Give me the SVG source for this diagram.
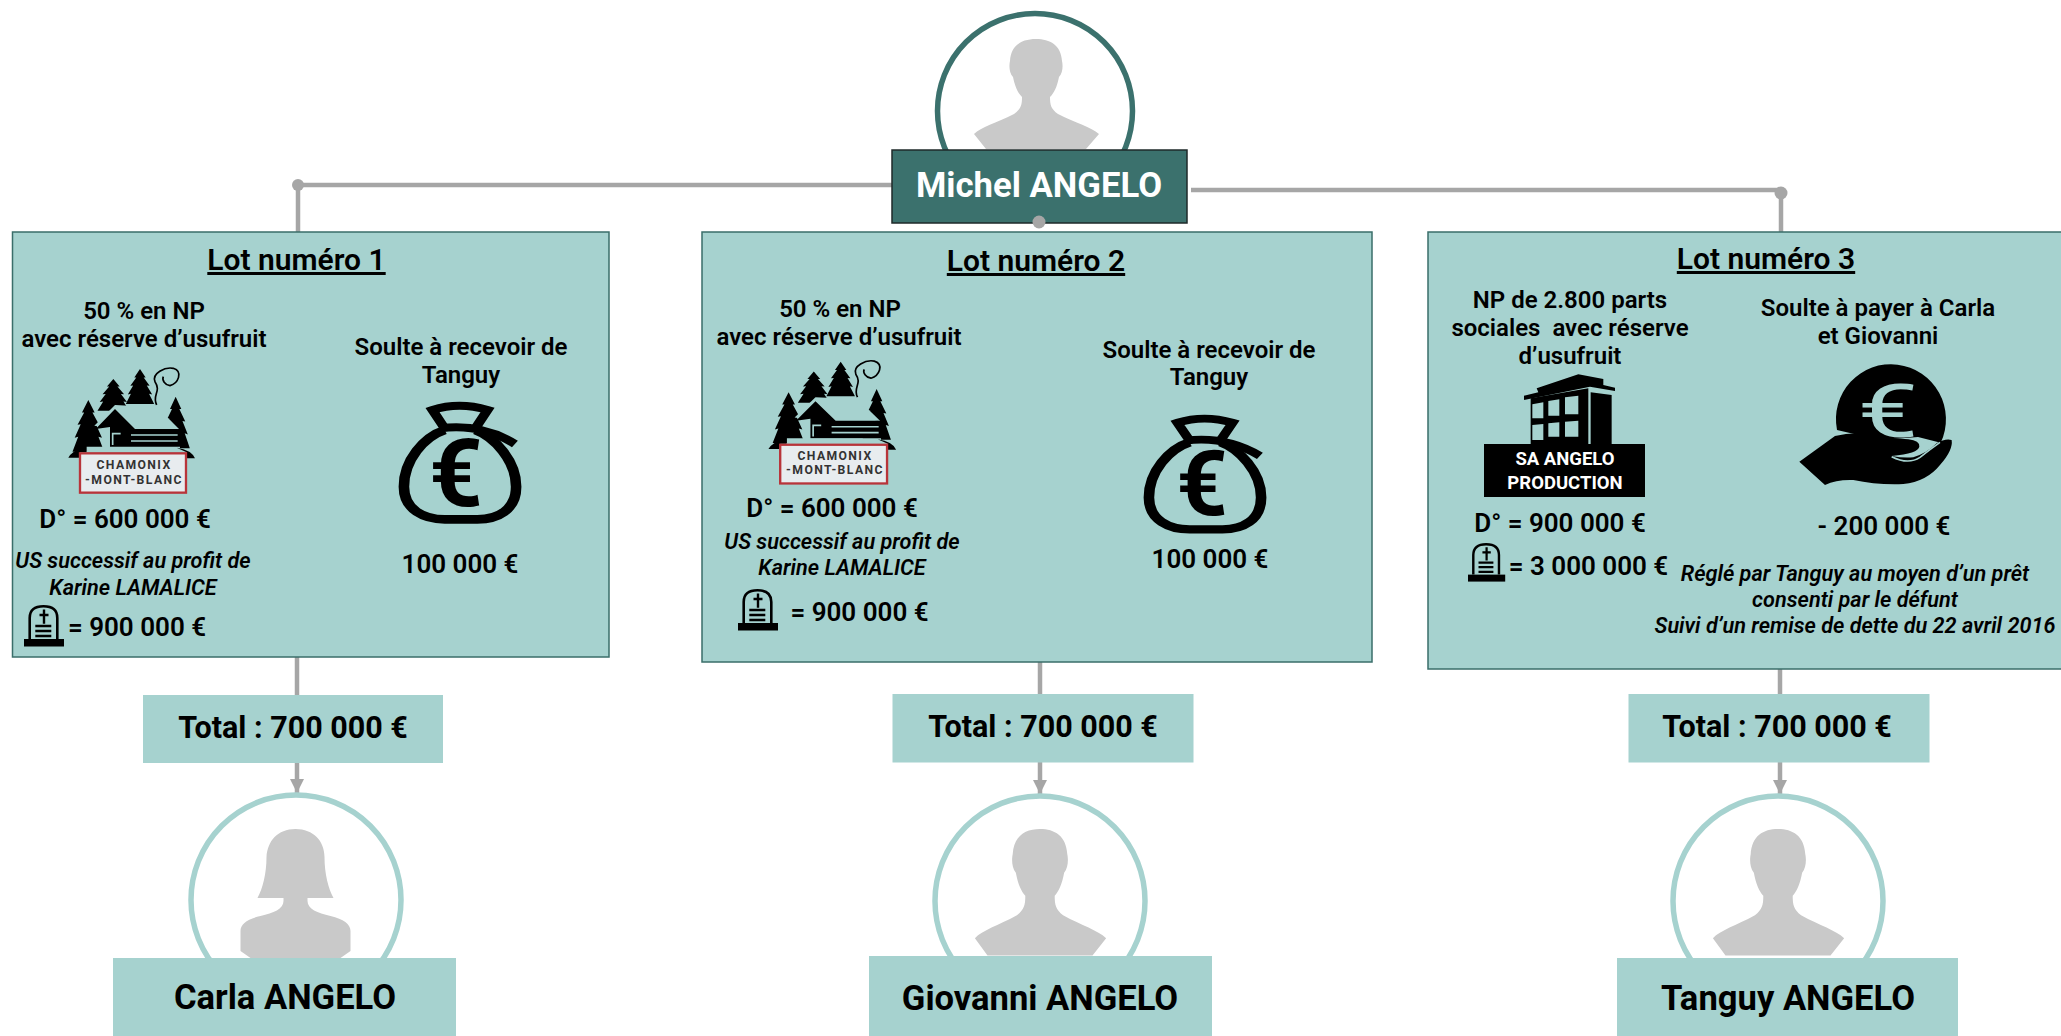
<svg xmlns="http://www.w3.org/2000/svg" width="2061" height="1036" viewBox="0 0 2061 1036">
<style>
text{font-family:Roboto,"Liberation Sans",sans-serif;text-anchor:middle;fill:#000;font-weight:700}
.st{font-size:24px;font-weight:600}
.big{font-size:26px;font-weight:600}
.lot{font-size:30px;text-decoration:underline;font-weight:600}
.it{font-size:21.7px;font-style:italic;font-weight:600}
.tot{font-size:30.5px}
.name{font-size:34.6px}
.sign{font-size:12.2px;letter-spacing:1.4px;fill:#333;font-weight:700}
.sa{font-size:18.5px;fill:#fff}
.box{fill:#a6d2cf}
.lotbox{fill:#a6d2cf;stroke:#3a6e6a;stroke-width:1.5}
.ring{fill:#fff;stroke-width:5.5}
.sil{fill:#c9c9c9}
.cn{fill:none;stroke:#a6a6a6;stroke-width:4.5}
.dot{fill:#a6a6a6}
</style>
<defs>
<marker id="arr" markerUnits="userSpaceOnUse" markerWidth="14" markerHeight="14" refX="14" refY="7" orient="auto"><path d="M0,0L14,7L0,14Z" fill="#a6a6a6"/></marker>
<path id="tree" d="M0,0L20,24L13,24L34,48L24,47L43,73L32,71L50,100L-50,100L-32,71L-43,73L-24,47L-34,48L-13,24L-20,24Z" fill="#000"/>
<g id="chalet">
<use href="#tree" transform="translate(255,42) scale(.85,1.05)"/>
<use href="#tree" transform="translate(175,72) scale(.95,.95)"/>
<use href="#tree" transform="translate(100,135) scale(.95,1.55)"/>
<use href="#tree" transform="translate(362,125) scale(.85,1.55)"/>
<path d="M118,212L180,150L280,155L340,190L372,222L232,228Z" fill="#a6d2cf"/>
<path d="M180,162L122,222L165,216V276H368V222H240Z" fill="#000"/>
<path d="M228,240H368M228,258H368M173,270V236H197" fill="none" stroke="#a6d2cf" stroke-width="5"/>
<path d="M305,150C290,120 320,110 300,80C290,55 330,35 355,40C385,50 370,85 345,92C330,90 320,75 325,65" fill="none" stroke="#000" stroke-width="5"/>
<path d="M95,275H375V295H95Z" fill="#a6d2cf"/>
<path d="M40,308Q50,288 85,278L95,292H75V308ZM365,278Q410,285 420,310H395V292Z" fill="#000"/>
<rect x="75" y="295" width="318" height="118" fill="#e8ecef" stroke="#b8343a" stroke-width="7"/>
</g>
<g id="bag">
<path d="M1090,625L1060,570Q1125,545 1195,570L1165,625" fill="none" stroke="#000" stroke-width="24"/>
<path d="M1090,630C1040,650 990,720 990,800C990,870 1040,898 1090,898H1170C1220,898 1265,870 1265,800C1265,720 1210,650 1165,630" fill="none" stroke="#000" stroke-width="26"/>
<path d="M1080,625Q1180,610 1262,672" fill="none" stroke="#000" stroke-width="24"/>
</g>
<g id="tomb">
<path d="M5.7,34V13Q5.7,1.3 19.5,1.3Q33.3,1.3 33.3,13V34" fill="none" stroke="#000" stroke-width="2.6"/>
<rect x="0" y="34" width="40" height="7.5" fill="#000"/>
<path d="M20,4.5V18.7M15.5,10H24.5" stroke="#000" stroke-width="2.4" fill="none"/>
<path d="M11.3,21H27.3M11.3,26H27.3M11.3,31H27.3" stroke="#000" stroke-width="2.4" fill="none"/>
</g>
<g id="man"><path class="sil" d="M0,0C-14,0 -25,6 -26,22C-27,26 -27,34 -23,38C-21,48 -18,54 -14,58C-14,66 -15,70 -22,75C-40,84 -55,88 -62,95L-50,110H50L63,95C55,88 40,84 22,75C15,70 14,66 14,58C18,54 21,48 23,38C27,34 27,26 26,22C25,6 14,0 0,0Z"/></g>
<g id="woman"><path class="sil" d="M0,0C-18,0 -28,12 -29,28C-29,45 -33,60 -38,69H-12V72C-12,80 -22,84 -35,87C-48,90 -55,95 -55,102V122L-45,129H45L55,122V102C55,95 48,90 35,87C22,84 12,80 12,72V69H38C33,60 29,45 29,28C29,12 18,0 0,0Z"/></g>
</defs>
<rect width="2061" height="1036" fill="#fff"/>

<g id="michel-portrait">
<circle class="ring" cx="1035" cy="111" r="97.5" stroke="#3b716d"/>
<use href="#man" transform="translate(1036,39)"/>
</g>

<g id="connectors">
<path class="cn" d="M298,185H892"/>
<path class="cn" d="M298,185V232"/>
<circle class="dot" cx="298" cy="185" r="6"/>
<path class="cn" d="M1191,190H1781"/>
<path class="cn" d="M1781,193V232"/>
<circle class="dot" cx="1781" cy="193" r="6.5"/>
<path class="cn" d="M297,657V695"/>
<path class="cn" d="M297,763V793" marker-end="url(#arr)"/>
<path class="cn" d="M1040,662V694"/>
<path class="cn" d="M1040,762V794" marker-end="url(#arr)"/>
<path class="cn" d="M1780,669V694"/>
<path class="cn" d="M1780,762V794" marker-end="url(#arr)"/>
</g>

<g id="michel">
<rect x="892" y="150" width="295" height="73" fill="#3b716d" stroke="#1f2a2a" stroke-width="1.5"/>
<text x="1039" y="197" style="font-size:34.7px;fill:#fff">Michel ANGELO</text>
</g>

<g id="lot1">
<rect class="lotbox" x="12.5" y="232" width="596.5" height="425"/>
<text class="lot" x="296.5" y="270">Lot numéro 1</text>
<text class="st" x="144" y="319">50 % en NP</text>
<text class="st" x="144" y="347">avec réserve d’usufruit</text>
<use href="#chalet" transform="translate(55,355) scale(.3333)"/>
<text class="sign" x="134" y="469">CHAMONIX</text>
<text class="sign" x="134" y="484">-MONT-BLANC</text>
<text class="big" x="125" y="528">D° = 600 000 €</text>
<text class="it" x="133" y="568">US successif au profit de</text>
<text class="it" x="133" y="595">Karine LAMALICE</text>
<use href="#tomb" transform="translate(24,605)"/>
<text class="big" x="137" y="636">= 900 000 €</text>
<text class="st" x="461" y="355">Soulte à recevoir de</text>
<text class="st" x="461" y="383">Tanguy</text>
<use href="#bag" transform="translate(0,220) scale(.408,.3333)"/>
<text x="456" y="506" style="font-size:94px">€</text>
<text class="big" x="460" y="573">100 000 €</text>
</g>

<g id="lot2">
<rect class="lotbox" x="702" y="232" width="670" height="430"/>
<text class="lot" x="1036" y="271">Lot numéro 2</text>
<text class="st" x="840" y="316.5">50 % en NP</text>
<text class="st" x="839" y="345">avec réserve d’usufruit</text>
<use href="#chalet" transform="translate(755,348) scale(.336,.328)"/>
<text class="sign" x="835" y="459.5">CHAMONIX</text>
<text class="sign" x="835" y="474">-MONT-BLANC</text>
<text class="big" x="832" y="517">D° = 600 000 €</text>
<text class="it" x="842" y="548.5">US successif au profit de</text>
<text class="it" x="842" y="574.5">Karine LAMALICE</text>
<use href="#tomb" transform="translate(738,589)"/>
<text class="big" x="859.5" y="621">= 900 000 €</text>
<text class="st" x="1209" y="358">Soulte à recevoir de</text>
<text class="st" x="1209" y="385">Tanguy</text>
<use href="#bag" transform="translate(745,237.5) scale(.408,.325)"/>
<text x="1202" y="515" style="font-size:90px">€</text>
<text class="big" x="1210" y="568">100 000 €</text>
<circle class="dot" cx="1039" cy="222" r="6.5"/>
</g>

<g id="lot3">
<rect class="lotbox" x="1428" y="232" width="640" height="437"/>
<text class="lot" x="1766" y="269">Lot numéro 3</text>
<text class="st" x="1570" y="308">NP de 2.800 parts</text>
<text class="st" x="1570" y="336" xml:space="preserve">sociales  avec réserve</text>
<text class="st" x="1570" y="364">d’usufruit</text>
<g transform="translate(1500,365) scale(.3333)">
<path d="M110,70L235,28L310,42V60L345,68V78L270,65L72,105V92L115,82Z" fill="#000"/>
<path d="M92,100L265,70V245H92ZM272,82L335,90V245H272Z" fill="#000"/>
<path d="M97,118L130,112V160H97ZM145,108L178,103V152H145ZM195,97L235,92V148H195ZM97,180L130,177V225H97ZM145,175L178,172V215H145ZM195,170L235,167V215H195Z" fill="#a6d2cf"/>
</g>
<rect x="1484" y="444" width="161" height="53" fill="#000"/>
<text class="sa" x="1565" y="465">SA ANGELO</text>
<text class="sa" x="1565" y="489">PRODUCTION</text>
<text class="big" x="1560" y="532">D° = 900 000 €</text>
<use href="#tomb" transform="translate(1468,543) scale(.93)"/>
<text class="big" x="1588.5" y="575">= 3 000 000 €</text>
<text class="st" x="1878" y="316">Soulte à payer à Carla</text>
<text class="st" x="1878" y="344">et Giovanni</text>
<path d="M1837,430A55,55 0 1 1 1940.7,442.7L1918,437L1880,440Z" fill="#000"/>
<text transform="translate(1888,437) scale(1.45,1)" x="0" y="0" style="font-size:75px;font-weight:400;fill:#a6d2cf">€</text>
<g transform="translate(1780,350) scale(.3333)">
<path d="M58,335L165,258Q240,240 300,262L385,268Q420,272 418,290Q415,310 335,318Q370,325 400,322Q440,310 470,280Q495,265 515,270Q520,300 480,345Q440,395 370,402Q290,405 220,390Q170,388 135,405Z" fill="#000"/>
<path d="M335,320Q385,345 420,322Q450,298 480,277" fill="none" stroke="#a6d2cf" stroke-width="5"/>
</g>
<text class="big" x="1884" y="535">- 200 000 €</text>
<text class="it" x="1855" y="581">Réglé par Tanguy au moyen d’un prêt</text>
<text class="it" x="1855" y="607">consenti par le défunt</text>
<text class="it" x="1855" y="633">Suivi d’un remise de dette du 22 avril 2016</text>
</g>

<g id="total1"><rect class="box" x="143" y="695" width="300" height="68"/><text class="tot" x="293" y="738">Total : 700 000 €</text></g>
<g id="total2"><rect class="box" x="892.5" y="694" width="301" height="68.5"/><text class="tot" x="1043" y="737">Total : 700 000 €</text></g>
<g id="total3"><rect class="box" x="1628.5" y="694" width="301" height="68.5"/><text class="tot" x="1777" y="737">Total : 700 000 €</text></g>

<g id="carla">
<circle class="ring" cx="296" cy="900" r="105" stroke="#a6d2cf"/>
<use href="#woman" transform="translate(295.5,829)"/>
<rect class="box" x="113" y="958" width="343" height="78"/>
<text class="name" x="285" y="1009">Carla ANGELO</text>
</g>
<g id="giovanni">
<circle class="ring" cx="1040" cy="901" r="105" stroke="#a6d2cf"/>
<use href="#man" transform="translate(1040,829) scale(1.05,1.15)"/>
<rect class="box" x="869" y="956" width="343" height="80"/>
<text class="name" x="1040" y="1010">Giovanni ANGELO</text>
</g>
<g id="tanguy">
<circle class="ring" cx="1778" cy="901" r="105" stroke="#a6d2cf"/>
<use href="#man" transform="translate(1778,829) scale(1.05,1.15)"/>
<rect class="box" x="1617" y="958" width="341" height="78"/>
<text class="name" x="1788" y="1010">Tanguy ANGELO</text>
</g>
</svg>
